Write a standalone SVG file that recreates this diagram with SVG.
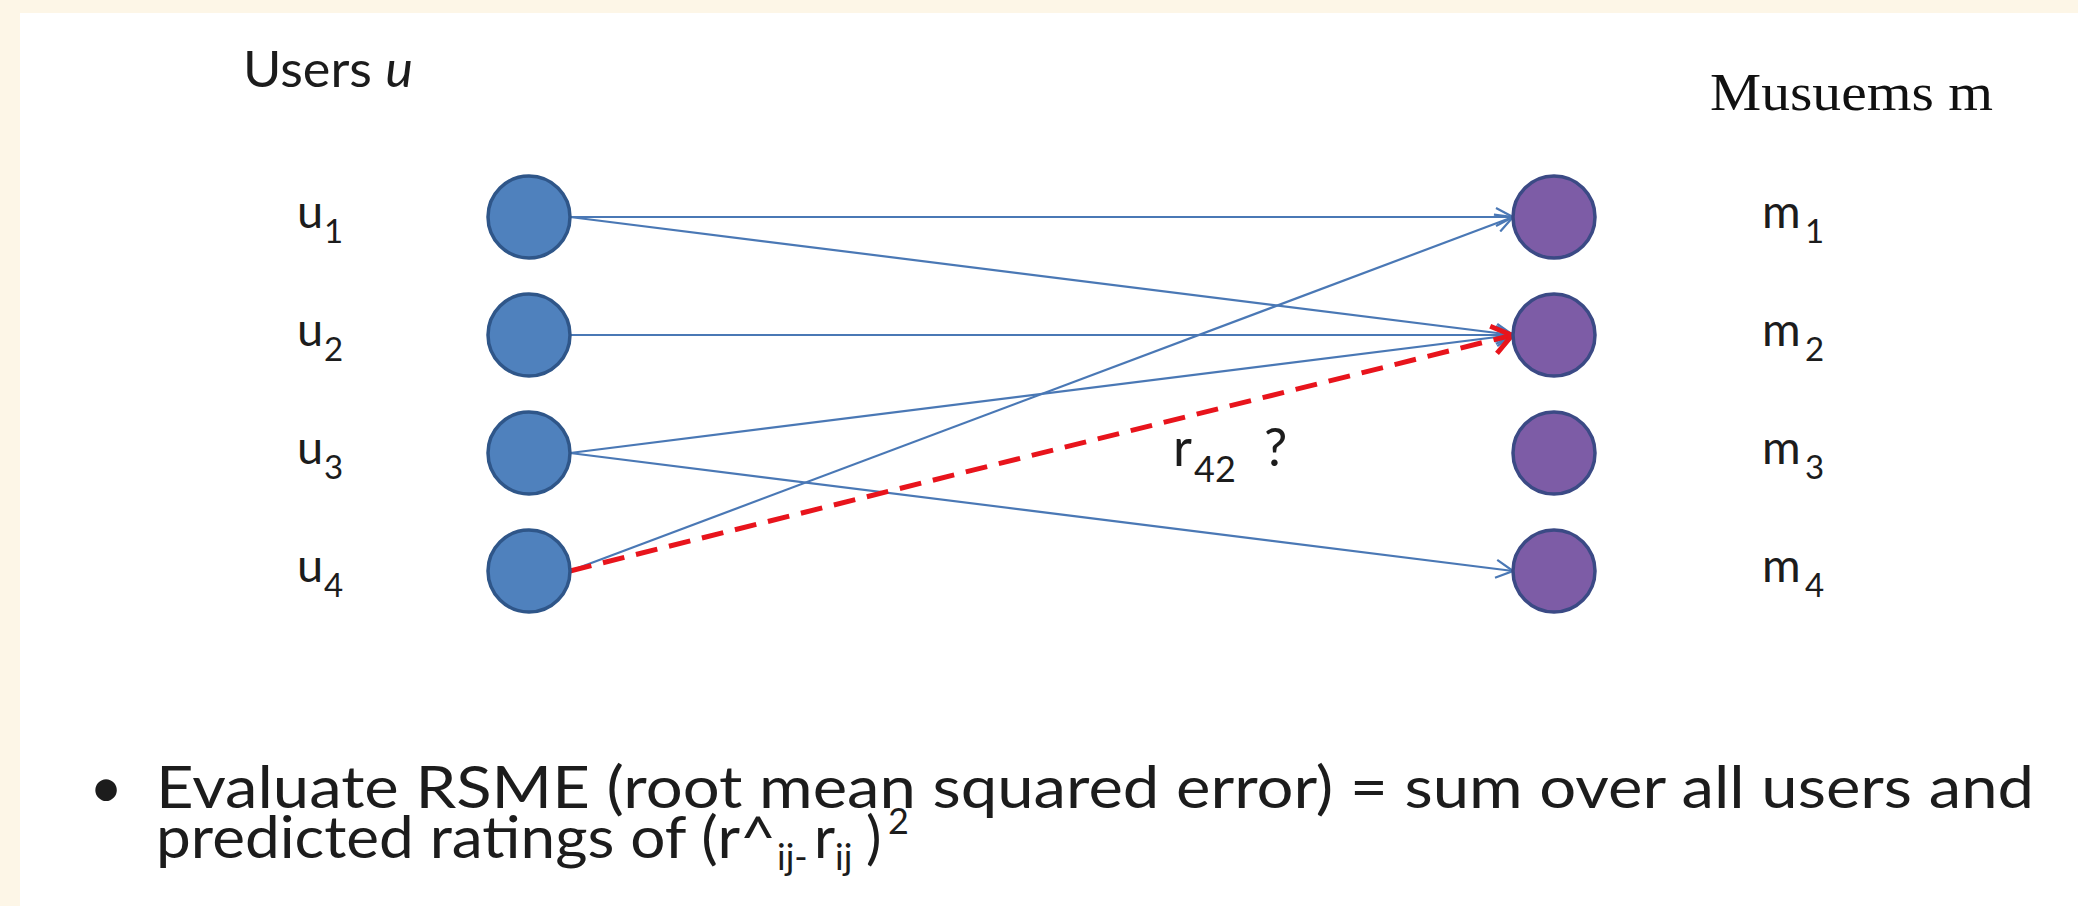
<svg xmlns="http://www.w3.org/2000/svg" width="2078" height="906" viewBox="0 0 2078 906">
  <style>
    .txt { font-family: Lato, "Open Sans", "Liberation Sans", sans-serif; fill: #1c1c1c; }
    .serif { font-family: "Liberation Serif", "Times New Roman", serif; fill: #111; }
    .user { fill: #4f81bd; stroke: #2f5689; stroke-width: 3.5; }
    .museum { fill: #7d5ca6; stroke: #3b4a85; stroke-width: 3.5; }
    .edge { fill: none; stroke: #4a78b5; stroke-width: 2.2; marker-end: url(#arrowBlue); }
    .pred { fill: none; stroke: #e8141c; stroke-width: 5; stroke-dasharray: 22 12; marker-end: url(#arrowRed); }
    .lbl { font-size: 47px; }
    .sub { font-size: 33px; }
  </style>
  <defs>
    <marker id="arrowBlue" markerUnits="userSpaceOnUse" viewBox="0 0 20 20" refX="19" refY="10" markerWidth="20" markerHeight="20" orient="auto">
      <path d="M2,1 L19,10 L2,19" fill="none" stroke="#4a78b5" stroke-width="2.2"/>
    </marker>
    <marker id="arrowRed" markerUnits="userSpaceOnUse" viewBox="0 0 26 34" refX="23" refY="17" markerWidth="26" markerHeight="34" orient="auto">
      <path d="M3,3 L22,17 L3,31" fill="none" stroke="#e8141c" stroke-width="5"/>
    </marker>
  </defs>

  <rect x="0" y="0" width="2078" height="906" fill="#fdf6e7"/>
  <rect x="20" y="13" width="2058" height="893" fill="#ffffff"/>

  <g id="headers">
    <text class="txt" x="243" y="87" font-size="50" textLength="170" lengthAdjust="spacingAndGlyphs">Users <tspan font-style="italic">u</tspan></text>
    <text class="serif" x="1710" y="110" font-size="52" textLength="283" lengthAdjust="spacingAndGlyphs">Musuems m</text>
  </g>

  <g id="connectors">
    <path class="edge" d="M570,217 L1513,217"/>
    <path class="edge" d="M570,217 L1513,335"/>
    <path class="edge" d="M570,335 L1513,335"/>
    <path class="edge" d="M570,453 L1513,335"/>
    <path class="edge" d="M570,453 L1513,571"/>
    <path class="edge" d="M570,571 L1513,217"/>
    <path class="pred" d="M570,571 L1513,335"/>
    <text class="txt" x="1173" y="466" font-size="52">r</text>
    <text class="txt" x="1194" y="482" font-size="36">42</text>
    <text class="txt" x="1264" y="466" font-size="52">?</text>
  </g>

  <g id="u1">
    <circle class="user" cx="529" cy="217" r="41"/>
    <text class="txt lbl" x="297" y="228">u</text>
    <text class="txt sub" x="324" y="243">1</text>
  </g>
  <g id="u2">
    <circle class="user" cx="529" cy="335" r="41"/>
    <text class="txt lbl" x="297" y="346">u</text>
    <text class="txt sub" x="324" y="361">2</text>
  </g>
  <g id="u3">
    <circle class="user" cx="529" cy="453" r="41"/>
    <text class="txt lbl" x="297" y="464">u</text>
    <text class="txt sub" x="324" y="479">3</text>
  </g>
  <g id="u4">
    <circle class="user" cx="529" cy="571" r="41"/>
    <text class="txt lbl" x="297" y="582">u</text>
    <text class="txt sub" x="324" y="597">4</text>
  </g>

  <g id="m1">
    <circle class="museum" cx="1554" cy="217" r="41"/>
    <text class="txt lbl" x="1762" y="228">m</text>
    <text class="txt sub" x="1805" y="243">1</text>
  </g>
  <g id="m2">
    <circle class="museum" cx="1554" cy="335" r="41"/>
    <text class="txt lbl" x="1762" y="346">m</text>
    <text class="txt sub" x="1805" y="361">2</text>
  </g>
  <g id="m3">
    <circle class="museum" cx="1554" cy="453" r="41"/>
    <text class="txt lbl" x="1762" y="464">m</text>
    <text class="txt sub" x="1805" y="479">3</text>
  </g>
  <g id="m4">
    <circle class="museum" cx="1554" cy="571" r="41"/>
    <text class="txt lbl" x="1762" y="582">m</text>
    <text class="txt sub" x="1805" y="597">4</text>
  </g>

  <g id="bullet-text">
    <text class="txt" x="106" y="808" font-size="58" text-anchor="middle">•</text>
    <text class="txt" x="156" y="808" font-size="58" textLength="1878" lengthAdjust="spacingAndGlyphs">Evaluate RSME (root mean squared error) = sum over all users and</text>
    <text class="txt" x="156" y="858" font-size="58" textLength="620" lengthAdjust="spacingAndGlyphs">predicted ratings of (r^</text>
    <text class="txt" x="777" y="870" font-size="36">ij-</text>
    <text class="txt" x="814" y="858" font-size="58">r</text>
    <text class="txt" x="835" y="870" font-size="36">ij</text>
    <text class="txt" x="866" y="858" font-size="58">)</text>
    <text class="txt" x="888" y="834" font-size="36">2</text>
  </g>
</svg>
